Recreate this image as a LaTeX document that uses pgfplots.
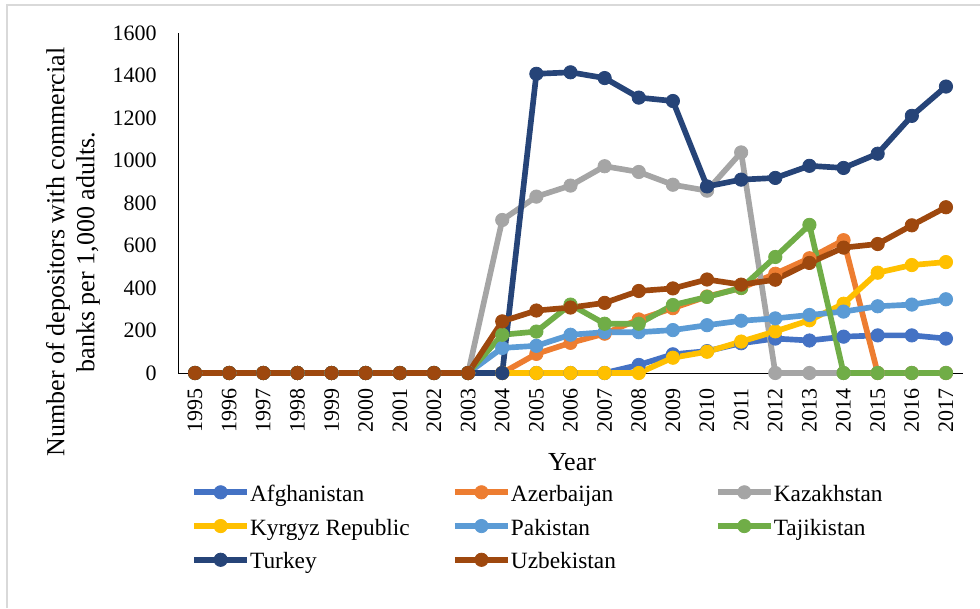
\documentclass[border=0pt]{standalone}
\usepackage{fontspec}
\setmainfont{Liberation Serif}
\usepackage{pgfplots}
\usepackage{pgfplotstable}
\pgfplotsset{compat=1.18}

\definecolor{cAfg}{HTML}{4472C4}
\definecolor{cAze}{HTML}{ED7D31}
\definecolor{cKaz}{HTML}{A5A5A5}
\definecolor{cKyr}{HTML}{FFC000}
\definecolor{cPak}{HTML}{5B9BD5}
\definecolor{cTaj}{HTML}{70AD47}
\definecolor{cTur}{HTML}{264478}
\definecolor{cUzb}{HTML}{9E480E}
\definecolor{frame}{HTML}{D9D9D9}

% Depositors with commercial banks per 1,000 adults
\pgfplotstableread{
year  Afg   Aze  Kaz   Kyr  Pak  Taj  Tur   Uzb
1995  0     0    0     0    0    0    0     0
1996  0     0    0     0    0    0    0     0
1997  0     0    0     0    0    0    0     0
1998  0     0    0     0    0    0    0     0
1999  0     0    0     0    0    0    0     0
2000  0     0    0     0    0    0    0     0
2001  0     0    0     0    0    0    0     0
2002  0     0    0     0    0    0    0     0
2003  0     0    0     0    0    0    0     0
2004  0     0    720   0    118  180  0     243
2005  0     90   830   0    128  195  1408  294
2006  0     142  882   0    180  322  1415  308
2007  0     185  973   0    192  232  1388  330
2008  38    252  946   0    192  232  1296  386
2009  88    305  886   72   202  320  1280  398
2010  103   360  858   100  225  358  878   440
2011  140   400  1038  148  246  400  910   416
2012  162   467  0     196  257  546  918   439
2013  153   540  0     248  273  697  975   518
2014  171   625  0     326  289  0    965   590
2015  177   0    0     472  314  0    1032  607
2016  177   0    0     508  322  0    1210  695
2017  162   0    0     522  347  0    1348  780
}\datatable

\pgfplotsset{
  series/.style={color=#1, line width=4.25pt, line join=round, mark=*,
    mark size=5pt, mark options={solid, fill=#1, draw=#1, line width=0.6pt}},
}

\begin{document}
\begin{tikzpicture}
\useasboundingbox (0pt,0pt) rectangle (735pt,456pt);
\draw[frame, line width=1.5pt] (4.875pt,0pt) -- (4.875pt,452.25pt) -- (735pt,452.25pt);

\begin{axis}[
  at={(133.5pt,176.25pt)}, anchor=south west,
  scale only axis, width=588.75pt, height=255pt,
  xmin=1994.5, xmax=2017.5, ymin=0, ymax=1600,
  clip=false,
  axis x line*=bottom, axis y line*=left,
  axis line style={black, line width=0.75pt, -},
  xtick={1995,...,2017}, ytick={0,200,...,1600},
  major tick length=0pt,
  /pgf/number format/1000 sep={},
  /pgf/number format/assume math mode=true,
  tick label style={font=\fontsize{16.5}{19}\selectfont},
  xticklabel style={rotate=90, anchor=east, inner xsep=11.25pt, inner ysep=0pt},
  yticklabel style={anchor=east, inner xsep=15.75pt, inner ysep=0pt},
  legend columns=3,
  legend cell align=left,
  legend image code/.code={%
    \path[draw=none, fill=none] (0pt,-8.5pt) rectangle (42pt,8.5pt);
    \draw[mark repeat=2, mark phase=2, #1] plot coordinates {(0pt,2.25pt) (19.9pt,2.25pt) (39.75pt,2.25pt)};},
  legend style={at={(axis description cs:0.0166,-0.3256)}, anchor=north west,
    draw=none, fill=none, inner sep=0pt, column sep=0pt, row sep=8.3pt,
    font=\fontsize{17.5}{20}\selectfont,
    nodes={inner sep=0pt, text height=13pt, text depth=4pt}},
]
\addplot[series=cAfg] table[x=year, y=Afg] {\datatable};
\addlegendentry{\makebox[151.5pt][l]{Afghanistan}}
\addplot[series=cAze] table[x=year, y=Aze] {\datatable};
\addlegendentry{\makebox[153pt][l]{Azerbaijan}}
\addplot[series=cKaz] table[x=year, y=Kaz] {\datatable};
\addlegendentry{Kazakhstan}
\addplot[series=cKyr] table[x=year, y=Kyr] {\datatable};
\addlegendentry{\makebox[151.5pt][l]{Kyrgyz Republic}}
\addplot[series=cPak] table[x=year, y=Pak] {\datatable};
\addlegendentry{\makebox[153pt][l]{Pakistan}}
\addplot[series=cTaj] table[x=year, y=Taj] {\datatable};
\addlegendentry{Tajikistan}
\addplot[series=cTur] table[x=year, y=Tur] {\datatable};
\addlegendentry{\makebox[151.5pt][l]{Turkey}}
\addplot[series=cUzb] table[x=year, y=Uzb] {\datatable};
\addlegendentry{\makebox[153pt][l]{Uzbekistan}}
\end{axis}

\node[rotate=90, align=center, font=\fontsize{19.5}{22.5}\selectfont]
  at (54.75pt,267pt) {Number of depositors with commercial\\banks per 1,000 adults.};
\node[anchor=base, font=\fontsize{19.5}{22.5}\selectfont] at (429pt,103.5pt) {Year};
\end{tikzpicture}
\end{document}
